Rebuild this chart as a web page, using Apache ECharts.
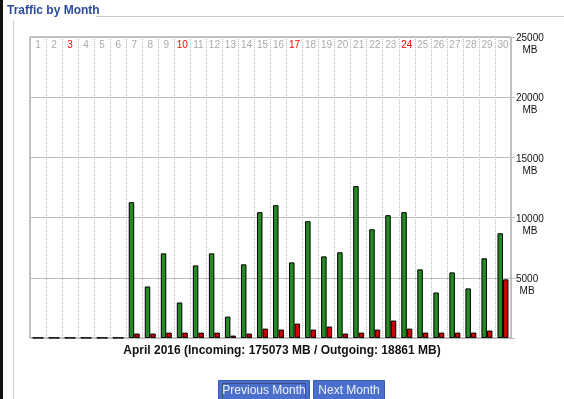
<!DOCTYPE html>
<html>
<head>
    <meta charset="utf-8">
    <title>Traffic by Month</title>
    <script src="https://cdn.jsdelivr.net/npm/echarts@6/dist/echarts.min.js"></script>
    <style>
        html, body { margin: 0; padding: 0; background: #fff; }
        #main { width: 564px; height: 399px; }
    </style>
</head>
<body>
<div id="main"></div>
<script type="text/javascript">
    // days of April 2016, sundays drawn in red
    var days = [];
    for (var d = 1; d <= 30; d++) days.push(String(d));
    var sundays = ['3', '10', '17', '24'];

    // MB per day
    var incoming = [20, 20, 20, 20, 20, 20, 11280, 4280, 7030, 2950, 6030, 7030, 1780, 6120, 10450,
        11030, 6280, 9700, 6780, 7120, 12620, 9030, 10200, 10450, 5700, 3780, 5450, 4120, 6620, 8700];
    var outgoing = [20, 20, 20, 20, 20, 20, 370, 370, 450, 450, 450, 450, 200, 370, 780,
        700, 1200, 700, 950, 370, 450, 700, 1450, 780, 450, 450, 450, 450, 620, 4870];

    var yTicks = [0, 5000, 10000, 15000, 20000, 25000];

    var font = "'Liberation Sans', Arial, sans-serif";
    var myChart = echarts.init(document.getElementById('main'));

    var option = {
        animation: false,
        backgroundColor: '#fff',
        textStyle: { fontFamily: font },
        grid: {
            left: 30, right: 53, top: 37, bottom: 61,
            show: true, borderColor: '#888', borderWidth: 1, backgroundColor: 'transparent'
        },
        xAxis: {
            type: 'category',
            data: days,
            position: 'top',
            axisLine: { show: false },
            axisTick: { show: false },
            axisLabel: {
                inside: true,
                margin: 3,
                fontSize: 10,
                fontFamily: font,
                interval: 0,
                color: function (v) { return sundays.indexOf(v) >= 0 ? '#ff0000' : '#aaa'; }
            },
            splitLine: { show: true, lineStyle: { color: '#bbb', type: 'dotted', width: 1 } }
        },
        yAxis: {
            type: 'value',
            position: 'right',
            min: yTicks[0],
            max: yTicks[yTicks.length - 1],
            interval: 5000,
            axisLine: { show: false },
            axisTick: { show: true, length: 4, lineStyle: { color: '#bbb' } },
            splitLine: { lineStyle: { color: '#bbb', width: 1 } },
            axisLabel: {
                margin: 5,
                align: 'left',
                verticalAlign: 'middle',
                fontSize: 10,
                color: '#111',
                formatter: function (v) {
                    if (v === 0) return '';
                    // blank first line keeps the number on the grid line
                    return '{b|}\n{n|' + v + '}\n{u|MB}';
                },
                rich: {
                    b: { fontSize: 10, lineHeight: 15 },
                    n: { fontSize: 10, lineHeight: 12, color: '#111', fontFamily: font },
                    u: { fontSize: 10, lineHeight: 12, color: '#111', fontFamily: font, align: 'center' }
                }
            }
        },
        series: [
            {
                name: 'Incoming',
                type: 'bar',
                data: incoming,
                barWidth: 5.5,
                barGap: '0%',
                itemStyle: { color: '#228b22', borderColor: '#000', borderWidth: 1 }
            },
            {
                name: 'Outgoing',
                type: 'bar',
                data: outgoing,
                barWidth: 5.5,
                itemStyle: { color: '#cc0000', borderColor: '#000', borderWidth: 1 }
            }
        ],
        graphic: [
            // page strip and fieldset frame
            { type: 'rect', shape: { x: 0, y: 0, width: 3, height: 399 }, style: { fill: '#111' } },
            { type: 'line', shape: { x1: 96, y1: 16.5, x2: 564, y2: 16.5 }, style: { stroke: '#ccc', lineWidth: 1 } },
            { type: 'line', shape: { x1: 13.5, y1: 20, x2: 13.5, y2: 399 }, style: { stroke: '#ccc', lineWidth: 1 } },
            {
                type: 'text', left: 7, top: 5,
                style: { text: 'Traffic by Month', fontSize: 12, fontWeight: 'bold', fill: '#2b4b9b', fontFamily: font }
            },
            {
                type: 'text', left: 'center', top: 345,
                style: {
                    text: 'April 2016 (Incoming: 175073 MB / Outgoing: 18861 MB)',
                    fontSize: 12, fontWeight: 'bold', fill: '#111', fontFamily: font
                }
            },
            // buttons
            {
                type: 'group', left: 218, top: 380,
                children: [
                    { type: 'rect', shape: { x: 0, y: 0, width: 91, height: 22 }, style: { fill: '#4a6fcc', stroke: '#3b5bb0', lineWidth: 1 } },
                    { type: 'rect', shape: { x: 4, y: 3, width: 83, height: 16 }, style: { fill: 'none', stroke: '#333', lineWidth: 1, lineDash: [1, 1] } },
                    { type: 'text', x: 45.5, y: 10, style: { text: 'Previous Month', fontSize: 12, fill: '#eef2ff', align: 'center', verticalAlign: 'middle', fontFamily: font } }
                ]
            },
            {
                type: 'group', left: 313, top: 380,
                children: [
                    { type: 'rect', shape: { x: 0, y: 0, width: 71, height: 22 }, style: { fill: '#4a6fcc', stroke: '#3b5bb0', lineWidth: 1 } },
                    { type: 'text', x: 35.5, y: 10, style: { text: 'Next Month', fontSize: 12, fill: '#eef2ff', align: 'center', verticalAlign: 'middle', fontFamily: font } }
                ]
            }
        ]
    };

    myChart.setOption(option);
</script>
</body>
</html>
